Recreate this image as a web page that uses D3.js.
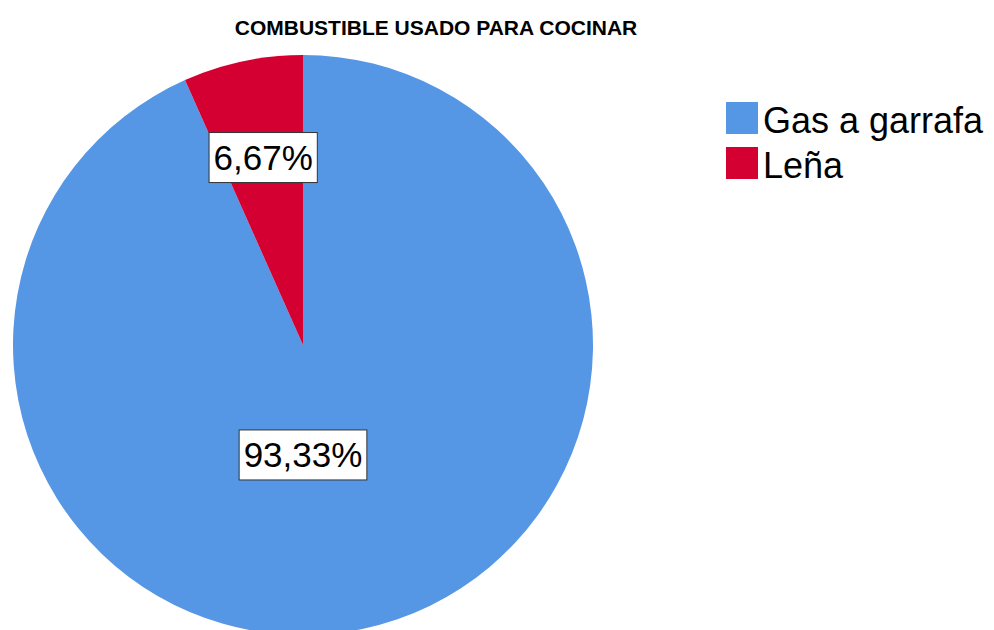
<!DOCTYPE html>
<html>
<head>
<meta charset="utf-8">
<script src="https://cdn.jsdelivr.net/npm/d3@7"></script>
<style>
  body { margin: 0; background: #fff; }
  text { font-family: "Liberation Sans", Arial, sans-serif; }
</style>
</head>
<body>
<div id="chart"></div>
<script>
// chart data
var title = "COMBUSTIBLE USADO PARA COCINAR";
var categories = ["Gas a garrafa", "Leña"];
var values = [93.33, 6.67];
var labels = ["93,33%", "6,67%"];
var colors = ["#5596e5", "#d50032"];

// svg size
var svgWidth = 994;
var svgHeight = 630;

var cx = 303;
var cy = 345;
var radius = 290;

var svg = d3.select("#chart")
  .append("svg")
  .attr("width", svgWidth)
  .attr("height", svgHeight);

// title
svg.append("text")
  .attr("x", 436)
  .attr("y", 35)
  .attr("text-anchor", "middle")
  .style("font-size", "21px")
  .style("font-weight", "bold")
  .text(title);

var data = categories.map(function(c, i) {
  return { cat: c, value: values[i], label: labels[i], color: colors[i] };
});

var pie = d3.pie()
  .sort(null)
  .value(d => d.value);

var arc = d3.arc()
  .innerRadius(0)
  .outerRadius(radius);

var pieGroup = svg.append("g")
  .attr("transform", `translate(${cx}, ${cy})`);

var arcs = pie(data);

pieGroup.selectAll("path")
  .data(arcs)
  .enter()
  .append("path")
  .attr("d", arc)
  .attr("fill", d => d.data.color);

// label placement: small slice at its mid angle, big slice straight down
function labelPos(d) {
  var share = (d.endAngle - d.startAngle) / (2 * Math.PI);
  var ang = share > 0.5 ? Math.PI : (d.startAngle + d.endAngle) / 2;
  var r = share > 0.5 ? radius * 0.38 : radius * 0.66;
  return [r * Math.sin(ang), -r * Math.cos(ang)];
}

var labelGroups = pieGroup.selectAll("g.lbl")
  .data(arcs)
  .enter()
  .append("g")
  .attr("class", "lbl")
  .attr("transform", d => `translate(${labelPos(d)})`);

labelGroups.append("text")
  .attr("text-anchor", "middle")
  .attr("dy", "0.35em")
  .style("font-size", "35px")
  .text(d => d.data.label);

labelGroups.each(function() {
  var g = d3.select(this);
  var bb = g.select("text").node().getBBox();
  g.insert("rect", "text")
    .attr("x", bb.x - 4.5)
    .attr("y", bb.y - 5.5)
    .attr("width", bb.width + 9)
    .attr("height", bb.height + 11)
    .attr("fill", "#fff")
    .attr("stroke", "#333")
    .attr("stroke-width", 1);
});

// legend
var legend = svg.append("g")
  .attr("transform", "translate(726, 102)");

var items = legend.selectAll("g")
  .data(data)
  .enter()
  .append("g")
  .attr("transform", (d, i) => `translate(0, ${i * 45})`);

items.append("rect")
  .attr("width", 32)
  .attr("height", 32)
  .attr("fill", d => d.color);

items.append("text")
  .attr("x", 37)
  .attr("y", 31)
  .style("font-size", "36px")
  .text(d => d.cat);
</script>
</body>
</html>
